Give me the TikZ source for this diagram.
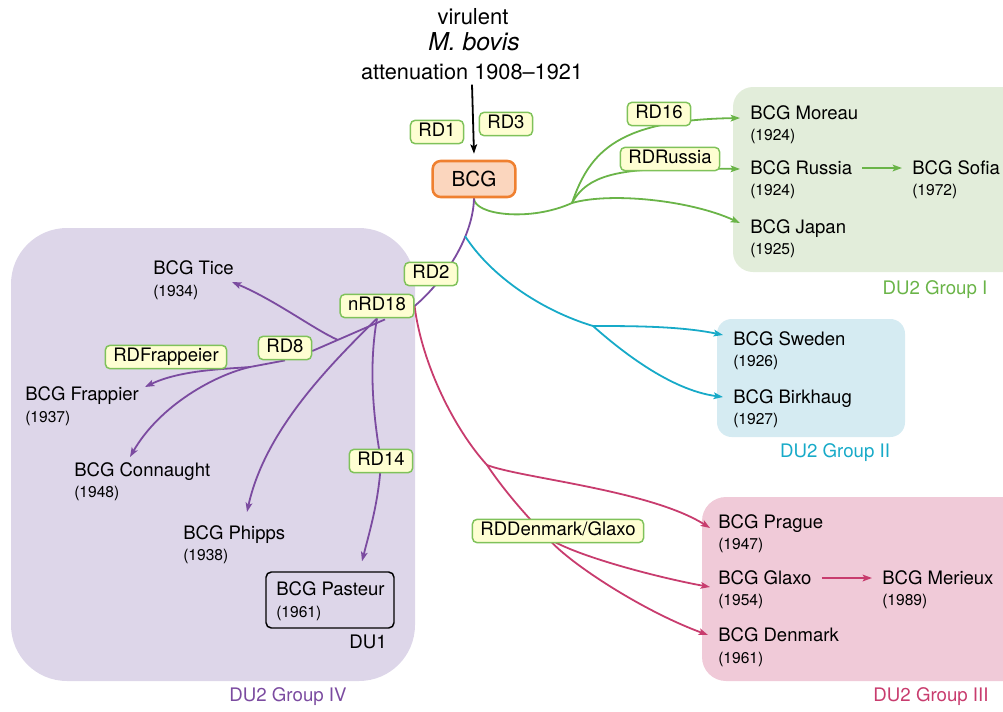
\documentclass[tikz,border=0pt]{standalone}
\usepackage{fontspec}
\setmainfont{TeX Gyre Heros}
\usetikzlibrary{arrows.meta,calc}
\pgfdeclarelayer{bg}
\pgfdeclarelayer{mid}
\pgfsetlayers{bg,mid,main}
\definecolor{gline}{HTML}{6AB448}
\definecolor{gfill}{HTML}{E2EDDA}
\definecolor{pline}{HTML}{7B4BA0}
\definecolor{pfill}{HTML}{DDD6E9}
\definecolor{cline}{HTML}{17AAC8}
\definecolor{cfill}{HTML}{D5EBF2}
\definecolor{mline}{HTML}{C83C6E}
\definecolor{mfill}{HTML}{F0CAD8}
\definecolor{oline}{HTML}{EF8030}
\definecolor{ofill}{HTML}{FBD6BE}
\definecolor{lblborder}{HTML}{7FC25A}
\definecolor{lblfill}{HTML}{FEFED2}
\begin{document}
\begin{tikzpicture}[x=0.75pt,y=-0.75pt,
  lbl/.style={draw=lblborder, fill=lblfill, line width=1.1pt, rounded corners=3.5pt,
    font=\fontsize{13.9}{15}\selectfont, inner xsep=6pt, inner ysep=2.5pt,
    text height=9.9pt, text depth=2.6pt},
  strain/.style={anchor=west, inner xsep=7.5pt, inner ysep=0pt,
    font=\fontsize{13.9}{16}\selectfont, text height=10pt, text depth=0pt},
  yr/.style={anchor=west, inner xsep=7.5pt, inner ysep=0pt,
    font=\fontsize{11.7}{14}\selectfont, text height=8.4pt, text depth=0pt},
  conn/.style={line width=1.35pt, -{Stealth[length=7pt,width=5pt,inset=1.5pt]}},
  plainline/.style={line width=1.35pt},
  grp/.style={font=\fontsize{14}{16}\selectfont},
  bcgbox/.style={draw=oline, fill=ofill, line width=1.9pt, rounded corners=6pt,
    minimum width=62pt, minimum height=27pt, font=\fontsize{15.5}{17}\selectfont},
]
\useasboundingbox (0,0) rectangle (1003,711);

% backgrounds
\begin{pgfonlayer}{bg}
\fill[gfill, rounded corners=15pt] (733,87) rectangle (1030,272);
\fill[cfill, rounded corners=11pt] (717,319) rectangle (905,437);
\fill[mfill, rounded corners=18pt] (702,497) rectangle (1030,681);
\fill[pfill, rounded corners=42pt] (11,228) rectangle (415,681);
\end{pgfonlayer}

% top texts
\node[font=\fontsize{16.5}{18}\selectfont] (vir) at (473,17) {virulent};
\node[font=\fontsize{18.5}{20}\selectfont\itshape] (mb) at (474,42) {M. bovis};
\node[font=\fontsize{16.3}{18}\selectfont] (att) at (472,72) {attenuation 1908–1921};
\node[bcgbox] (bcg) at (474,179) {BCG};

% group I
\node[strain] (moreau) at (740,113) {BCG Moreau};
\node[yr] (moreauy) at (740,135) {(1924)};
\node[strain] (russia) at (740,168) {BCG Russia};
\node[yr] (russiay) at (740,190) {(1924)};
\node[strain] (japan) at (740,227) {BCG Japan};
\node[yr] (japany) at (740,249) {(1925)};
\node[strain] (sofia) at (902,168) {BCG Sofia};
\node[yr] (sofiay) at (902,190) {(1972)};
\node[grp, text=gline] (grpI) at (935,290) {DU2 Group I};

% group II
\node[strain] (sweden) at (723,339) {BCG Sweden};
\node[yr] (swedeny) at (723,361) {(1926)};
\node[strain] (birkhaug) at (723,397) {BCG Birkhaug};
\node[yr] (birkhaugy) at (723,419) {(1927)};
\node[grp, text=cline] (grpII) at (835,453) {DU2 Group II};

% group III
\node[strain] (prague) at (708,522) {BCG Prague};
\node[yr] (praguey) at (708,544) {(1947)};
\node[strain] (glaxo) at (708,578) {BCG Glaxo};
\node[yr] (glaxoy) at (708,600) {(1954)};
\node[strain] (denmark) at (708,635) {BCG Denmark};
\node[yr] (denmarky) at (708,658) {(1961)};
\node[strain] (merieux) at (872,578) {BCG Merieux};
\node[yr] (merieuxy) at (872,600) {(1989)};
\node[grp, text=mline] (grpIII) at (931,697) {DU2 Group III};

% group IV
\node[strain] (tice) at (143,268) {BCG Tice};
\node[yr] (ticey) at (143,291) {(1934)};
\node[strain] (frappier) at (15,394) {BCG Frappier};
\node[yr] (frappiery) at (15,417) {(1937)};
\node[strain] (connaught) at (64,470) {BCG Connaught};
\node[yr] (connaughty) at (64,492) {(1948)};
\node[strain] (phipps) at (173,533) {BCG Phipps};
\node[yr] (phippsy) at (173,555) {(1938)};
\node[draw, line width=1.1pt, rounded corners=4pt, minimum width=96pt, minimum height=42pt] (pbox) at (330,600) {};
\node[strain] (pasteur) at (266,589) {BCG Pasteur};
\node[yr] (pasteury) at (266,612) {(1961)};
\node[grp] (du1) at (368,642) {DU1};
\node[grp, text=pline] (grpIV) at (288,697) {DU2 Group IV};

% labels
\node[lbl] (rd1) at (437,132) {RD1};
\node[lbl] (rd3) at (506,124) {RD3};
\node[lbl] (rd16) at (659,114) {RD16};
\node[lbl] (rdrussia) at (670,159) {RDRussia};
\node[lbl] (rd2) at (431,274) {RD2};
\node[lbl] (nrd18) at (377,306) {nRD18};
\node[lbl] (rd8) at (285,348) {RD8};
\node[lbl] (rdfrap) at (166,357) {RDFrappeier};
\node[lbl] (rd14) at (381,461) {RD14};
\node[lbl] (rddg) at (558,531) {RDDenmark/Glaxo};

% connectors
\begin{pgfonlayer}{mid}
\draw[conn, black] (att.south) -- ($(bcg.north)+(0,-6)$);

% green
\coordinate (gb) at (572,203);
\draw[plainline, gline] (bcg.south) .. controls (474,215) and (530,222) .. (gb);
\draw[conn, gline] (gb) .. controls (590,150) and (620,120) .. ($(moreau.west)+(0,5)$);
\draw[conn, gline] (gb) .. controls (590,170) and (630,167) .. ($(russia.west)+(0,1)$);
\draw[conn, gline] (gb) .. controls (610,192) and (690,200) .. ($(japan.west)+(0,-4)$);
\draw[conn, gline] (russia.east) -- (sofia.west);

% purple trunk
\draw[plainline, pline] (bcg.south) .. controls (473,240) and (440,285) .. (nrd18.east);

% cyan
\coordinate (cs) at (465,236);
\coordinate (cb) at (593,326);
\draw[plainline, cline] (cs) .. controls (490,275) and (540,310) .. (cb);
\draw[conn, cline] (cb) .. controls (630,326) and (680,326) .. ($(sweden.west)+(0,-4)$);
\draw[conn, cline] (cb) .. controls (620,350) and (670,390) .. (birkhaug.west);

% magenta
\coordinate (mb1) at (487,465);
\coordinate (mb2) at (548,538);
\draw[plainline, mline] (nrd18.east) .. controls (422,365) and (455,430) .. (mb1)
  .. controls (505,492) and (530,520) .. (mb2);
\draw[conn, mline] (mb1) .. controls (520,478) and (650,490) .. ($(prague.west)+(2,6)$);
\draw[conn, mline] (mb2) .. controls (575,556) and (660,578) .. ($(glaxo.west)+(2,9)$);
\draw[conn, mline] (mb2) .. controls (565,560) and (640,610) .. (denmark.west);
\draw[conn, mline] (glaxo.east) -- (merieux.west);

% purple branches
\coordinate (p0) at ($(nrd18.south)+(8,1)$);
\coordinate (pt) at (338,340);
\coordinate (pf) at (250,367);
\draw[plainline, pline] (p0) -- ($(rd8.east)+(0,3)$);
\draw[conn, pline] (pt) .. controls (315,330) and (275,300) .. ($(tice.west)+(89,14)$);
\draw[plainline, pline] (rd8.south) -- (pf);
\draw[conn, pline] (pf) .. controls (225,369) and (180,370) .. ($(frappier.west)+(130,-7)$);
\draw[conn, pline] (pf) .. controls (215,375) and (160,405) .. ($(connaught.west)+(66,-13)$);
\draw[conn, pline] (nrd18.south) .. controls (330,365) and (265,430) .. ($(phipps.west)+(74,-21)$);
\draw[plainline, pline] (nrd18.south) .. controls (368,370) and (374,420) .. (rd14.center);
\draw[conn, pline] (rd14.center) .. controls (379,500) and (370,530) .. ($(pbox.north)+(32,-10)$);
\end{pgfonlayer}
\end{tikzpicture}
\end{document}
